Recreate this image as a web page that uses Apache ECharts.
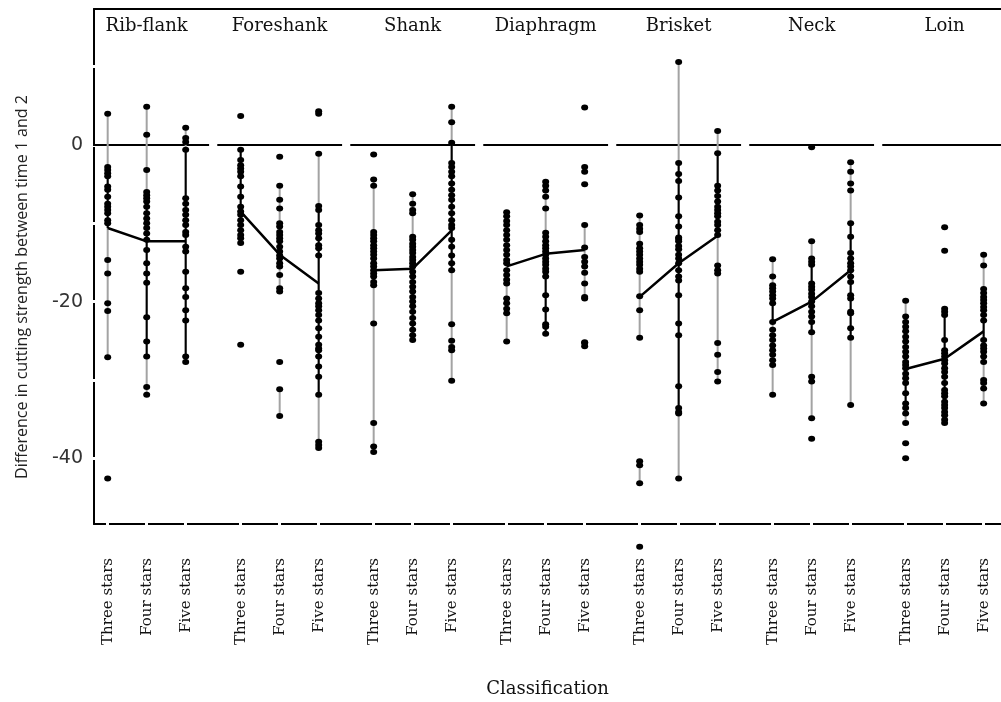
<!DOCTYPE html>
<html>
<head>
<meta charset="utf-8">
<script src="https://cdn.jsdelivr.net/npm/echarts@6/dist/echarts.min.js"></script>
<style>
  html, body { margin: 0; padding: 0; background: #fff; }
  #chart { width: 1001px; height: 702px; }
</style>
</head>
<body>
<div id="chart"></div>
<script>
// facets and classes
const panels = ["Rib-flank", "Foreshank", "Shank", "Diaphragm", "Brisket", "Neck", "Loin"];
const classes = ["Three stars", "Four stars", "Five stars"];

// mean per panel / class
const means = [
  [-10.6, -12.3, -12.3],
  [-8.5, -14.0, -17.7],
  [-16.0, -15.8, -10.9],
  [-15.5, -13.9, -13.4],
  [-19.4, -15.1, -11.6],
  [-22.6, -20.0, -16.0],
  [-28.6, -27.3, -23.8],
];

// individual differences
const ribFlank = [
  [4.0, -2.8, -3.2, -3.6, -4.0, -5.3, -5.7, -6.6, -7.5, -7.9, -8.3, -8.7, -9.6, -10.0, -14.7, -16.4, -20.2, -21.2, -27.1, -42.6],
  [4.9, 1.3, -3.2, -6.0, -6.4, -6.8, -7.2, -7.9, -8.7, -9.4, -10.0, -10.6, -11.3, -12.1, -13.4, -15.1, -16.4, -17.6, -22.0, -25.1, -27.0, -30.9, -31.9],
  [2.2, 0.9, 0.4, -0.6, -6.8, -7.5, -8.3, -8.9, -9.6, -10.2, -11.1, -11.5, -13.0, -13.6, -16.2, -18.3, -19.4, -21.1, -22.4, -27.0, -27.7],
];
const foreshank = [
  [3.7, -0.6, -1.9, -2.6, -3.0, -3.4, -4.0, -5.3, -6.6, -7.9, -8.5, -8.9, -9.6, -10.2, -10.9, -11.5, -11.9, -12.5, -16.2, -25.5],
  [-1.5, -5.2, -7.0, -8.1, -10.0, -10.4, -11.1, -11.5, -11.9, -12.3, -13.0, -13.6, -14.1, -14.5, -15.1, -15.5, -16.6, -18.3, -18.7, -27.7, -31.2, -34.6],
  [4.3, 4.0, -1.1, -7.8, -8.3, -10.2, -10.9, -11.3, -11.9, -12.8, -13.2, -14.1, -18.9, -19.6, -20.2, -20.6, -21.1, -21.7, -22.4, -23.4, -24.5, -25.5, -26.0, -26.2, -27.0, -28.3, -29.6, -31.9, -37.9, -38.3, -38.7],
];
const shank = [
  [-1.2, -4.4, -5.2, -11.1, -11.5, -11.9, -12.3, -12.8, -13.2, -13.6, -14.0, -14.5, -15.1, -15.5, -16.0, -16.4, -16.8, -17.5, -17.9, -22.8, -35.5, -38.5, -39.2],
  [-6.3, -7.5, -8.3, -8.7, -11.7, -12.1, -12.6, -13.0, -13.4, -13.8, -14.3, -14.7, -15.1, -15.5, -16.2, -16.8, -17.5, -18.1, -18.7, -19.4, -20.0, -20.6, -21.3, -22.1, -22.8, -23.6, -24.3, -24.9],
  [4.9, 2.9, 0.3, -2.3, -2.8, -3.4, -4.0, -4.9, -5.7, -6.4, -7.0, -7.9, -8.7, -9.6, -10.2, -10.6, -12.1, -13.0, -14.1, -15.1, -16.0, -22.9, -25.0, -25.8, -26.2, -30.1],
];
const diaphragm = [
  [-8.6, -9.1, -9.7, -10.2, -10.9, -11.5, -12.1, -12.8, -13.4, -14.0, -14.7, -15.1, -16.0, -16.6, -17.2, -17.7, -19.6, -20.2, -20.9, -21.5, -25.1],
  [-4.7, -5.2, -5.8, -6.6, -8.1, -11.2, -11.7, -12.3, -12.8, -13.2, -13.6, -14.0, -14.5, -14.9, -15.3, -15.8, -16.2, -16.8, -19.2, -21.0, -22.9, -23.2, -24.1],
  [4.8, -2.8, -3.4, -5.0, -10.2, -13.1, -14.3, -14.9, -15.5, -16.3, -17.7, -19.4, -19.6, -25.2, -25.3, -25.7],
];
const brisket = [
  [-9.0, -10.2, -10.7, -11.1, -12.6, -13.2, -13.6, -14.0, -14.5, -14.9, -15.3, -15.8, -16.2, -19.3, -21.1, -24.6, -40.4, -40.9, -43.2, -51.3],
  [10.6, -2.3, -3.7, -4.6, -6.7, -9.1, -10.4, -11.8, -12.0, -12.3, -12.9, -13.3, -14.0, -14.5, -15.1, -16.0, -16.8, -17.3, -19.2, -22.8, -24.3, -30.8, -33.6, -34.1, -34.3, -42.6],
  [1.8, -1.05, -5.2, -5.8, -6.5, -7.2, -7.9, -8.3, -8.7, -9.1, -9.8, -10.2, -10.9, -11.5, -15.4, -16.0, -16.4, -25.3, -26.8, -29.0, -30.2],
];
const neck = [
  [-14.6, -16.8, -17.9, -18.3, -18.7, -19.2, -19.6, -20.2, -22.6, -23.6, -24.3, -24.9, -25.6, -26.2, -26.8, -27.5, -28.1, -31.9],
  [-0.3, -12.3, -14.5, -14.9, -15.3, -17.7, -18.1, -18.5, -19.0, -19.4, -20.0, -20.6, -21.3, -21.9, -22.6, -23.9, -29.6, -30.2, -34.9, -37.5],
  [-2.2, -3.4, -4.9, -5.8, -10.0, -11.7, -13.8, -14.5, -15.1, -15.5, -16.0, -16.8, -17.5, -19.2, -19.6, -21.3, -21.5, -23.4, -24.6, -33.2],
];
const loin = [
  [-19.9, -21.9, -22.6, -23.2, -23.8, -24.5, -25.1, -25.8, -26.4, -27.0, -27.7, -28.1, -28.5, -29.2, -29.8, -30.4, -31.7, -33.0, -33.6, -34.3, -35.5, -38.1, -40.0],
  [-10.5, -13.5, -20.9, -21.3, -21.7, -24.9, -26.2, -26.6, -27.0, -27.5, -27.9, -28.5, -29.0, -29.6, -30.4, -31.3, -31.7, -32.1, -32.8, -33.2, -33.6, -34.1, -34.5, -35.1, -35.5],
  [-14.0, -15.4, -18.4, -18.9, -19.4, -19.8, -20.2, -20.7, -21.1, -21.7, -22.4, -24.9, -25.6, -26.0, -26.4, -27.0, -27.7, -30.0, -30.4, -31.1, -33.0],
];
const points = [ribFlank, foreshank, shank, diaphragm, brisket, neck, loin];

// vertical ranges: [panel, class, low, high]
const grayRanges = [
  [0, 0, -27.1, 4.0], [0, 1, -31.9, 4.9], [0, 2, -27.7, 2.2],
  [1, 0, -12.5, -0.6], [1, 1, -18.7, -5.2], [1, 1, -34.6, -31.2], [1, 2, -38.7, -1.1],
  [2, 0, -39.2, -4.4], [2, 1, -24.9, -6.3], [2, 2, -30.1, 4.9],
  [3, 0, -25.1, -8.6], [3, 1, -24.1, -4.7], [3, 2, -19.6, -10.2],
  [4, 0, -24.6, -9.0], [4, 0, -43.2, -40.4], [4, 1, -42.6, 10.6], [4, 2, -30.2, 1.8],
  [5, 0, -31.9, -14.6], [5, 1, -34.9, -12.3], [5, 2, -33.2, -2.2],
  [6, 0, -35.5, -19.9], [6, 1, -35.5, -20.9], [6, 2, -33.0, -14.0],
];
const blackRanges = [
  [0, 0, -10.6, -2.8], [0, 1, -27.0, -5.9], [0, 2, -27.7, -0.6],
  [1, 0, -12.5, -0.6], [1, 2, -31.9, -7.8],
  [2, 0, -17.9, -11.1], [2, 1, -24.9, -11.7], [2, 2, -16.0, 0.3],
  [3, 1, -24.1, -11.2],
  [4, 1, -34.3, -2.3], [4, 2, -11.6, -1.05],
  [5, 0, -22.6, -17.9], [5, 1, -23.9, -14.5], [5, 2, -24.6, -10.0],
  [6, 0, -34.3, -21.9], [6, 1, -33.2, -20.9], [6, 2, -27.7, -18.4],
];

const yTicks = [10, 0, -10, -20, -30, -40];
const yLabels = [0, -20, -40];

// layout of the facets along one value axis
const STEP = 3.41;
const X_MIN = -0.351;
const X_MAX = 22.905;
const Y_MIN = -48.4;
const Y_MAX = 17.37;
const xOf = (p, c) => p * STEP + c;

const catXs = [];
panels.forEach((_, p) => classes.forEach((_, c) => catXs.push(xOf(p, c))));
const panelXs = panels.map((_, p) => xOf(p, 1));

const series = [];

// zero reference line per facet
panels.forEach((_, p) => {
  series.push({
    type: "line",
    data: [[xOf(p, 0) - 0.6, 0], [xOf(p, 2) + 0.6, 0]],
    symbol: "none",
    clip: false,
    lineStyle: { color: "#000", width: 2 },
    silent: true,
    z: 2,
  });
});

function rangeSeries(list, color, z) {
  return {
    type: "custom",
    data: list.map((r) => [xOf(r[0], r[1]), r[2], r[3]]),
    renderItem: (params, api) => {
      const lo = api.coord([api.value(0), api.value(1)]);
      const hi = api.coord([api.value(0), api.value(2)]);
      return {
        type: "line",
        shape: { x1: lo[0], y1: lo[1], x2: hi[0], y2: hi[1] },
        style: { stroke: color, lineWidth: 2 },
      };
    },
    silent: true,
    z: z,
  };
}
series.push(rangeSeries(grayRanges, "#a3a3a3", 3));
series.push(rangeSeries(blackRanges, "#000", 4));

// mean lines
panels.forEach((_, p) => {
  series.push({
    type: "line",
    data: means[p].map((m, c) => [xOf(p, c), m]),
    symbol: "none",
    lineStyle: { color: "#000", width: 2.5 },
    silent: true,
    z: 5,
  });
});

// points
const scatterData = [];
points.forEach((groups, p) => groups.forEach((vals, c) => vals.forEach((v) => scatterData.push([xOf(p, c), v]))));
series.push({
  type: "scatter",
  data: scatterData,
  symbol: "circle",
  symbolSize: [7, 6],
  itemStyle: { color: "#000", opacity: 1 },
  clip: false,
  silent: true,
  z: 6,
});

const whiteTick = { show: true, length: 3, lineStyle: { color: "#fff", width: 3 } };

const chart = echarts.init(document.getElementById("chart"));
chart.setOption({
  animation: false,
  backgroundColor: "#fff",
  grid: { left: 94, top: 9, right: 0, bottom: 178, outerBoundsMode: "none" },
  xAxis: [
    {
      type: "value",
      min: X_MIN,
      max: X_MAX,
      position: "bottom",
      axisLine: { show: true, onZero: false, lineStyle: { color: "#000", width: 2 } },
      axisTick: Object.assign({ customValues: catXs, inside: false }, whiteTick),
      axisLabel: {
        customValues: catXs,
        rotate: 90,
        margin: 34,
        color: "#111",
        fontFamily: "DejaVu Serif",
        fontSize: 15,
        formatter: (v) => {
          const p = Math.round((v - 1) / STEP);
          return classes[Math.round(v - p * STEP)];
        },
      },
      splitLine: { show: false },
      name: "Classification",
      nameLocation: "middle",
      nameGap: 156,
      nameTextStyle: { fontFamily: "DejaVu Serif", fontSize: 18, color: "#111" },
    },
    {
      type: "value",
      min: X_MIN,
      max: X_MAX,
      position: "bottom",
      axisLine: { show: false, onZero: false },
      axisTick: Object.assign({ customValues: catXs, inside: true }, whiteTick),
      axisLabel: { show: false },
      splitLine: { show: false },
    },
    {
      type: "value",
      min: X_MIN,
      max: X_MAX,
      position: "top",
      axisLine: { show: true, onZero: false, lineStyle: { color: "#000", width: 2 } },
      axisTick: { show: false },
      axisLabel: {
        customValues: panelXs,
        inside: true,
        margin: 8,
        color: "#111",
        fontFamily: "DejaVu Serif",
        fontSize: 18,
        formatter: (v) => panels[Math.round((v - 1) / STEP)],
      },
      splitLine: { show: false },
    },
  ],
  yAxis: [
    {
      type: "value",
      min: Y_MIN,
      max: Y_MAX,
      position: "left",
      axisLine: { show: true, onZero: false, lineStyle: { color: "#000", width: 2 } },
      axisTick: Object.assign({ customValues: yTicks, inside: false }, whiteTick),
      axisLabel: {
        customValues: yLabels,
        margin: 11,
        color: "#333",
        fontFamily: "DejaVu Sans",
        fontSize: 19,
      },
      splitLine: { show: false },
    },
    {
      type: "value",
      min: Y_MIN,
      max: Y_MAX,
      position: "left",
      axisLine: { show: false, onZero: false },
      axisTick: Object.assign({ customValues: yTicks, inside: true }, whiteTick),
      axisLabel: { show: false },
      splitLine: { show: false },
    },
  ],
  graphic: [
    {
      type: "text",
      x: 22,
      y: 287,
      rotation: Math.PI / 2,
      style: {
        text: "Difference in cutting strength between time 1 and 2",
        font: '16px "Open Sans"',
        fill: "#222",
        align: "center",
        verticalAlign: "middle",
      },
    },
  ],
  series: series,
});
</script>
</body>
</html>
